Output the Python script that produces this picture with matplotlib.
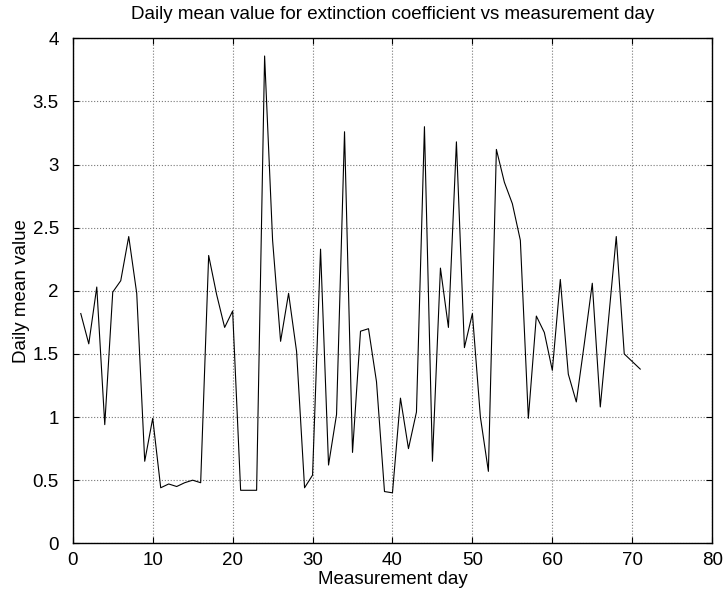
import matplotlib
matplotlib.use("Agg")
import matplotlib.pyplot as plt

plt.rcParams['font.family'] = ['Liberation Sans', 'DejaVu Sans']

# daily mean extinction coefficient, days 1..71
days = list(range(1, 72))
daily_mean = [
    1.82, 1.58, 2.03, 0.94, 1.99, 2.08, 2.43, 1.98, 0.65, 0.99,
    0.44, 0.47, 0.45, 0.48, 0.50, 0.48, 2.28, 1.97, 1.71, 1.84,
    0.42, 0.42, 0.42, 3.86, 2.40, 1.60, 1.98, 1.52, 0.44, 0.54,
    2.33, 0.62, 1.02, 3.26, 0.72, 1.68, 1.70, 1.28, 0.41, 0.40,
    1.15, 0.75, 1.04, 3.30, 0.65, 2.18, 1.71, 3.18, 1.55, 1.82,
    1.00, 0.57, 3.12, 2.86, 2.69, 2.40, 0.99, 1.80, 1.67, 1.37,
    2.09, 1.34, 1.12, 1.58, 2.06, 1.08, 1.75, 2.43, 1.50, 1.44,
    1.38,
]
x_ticks = list(range(0, 81, 10))
y_ticks = [0, 0.5, 1, 1.5, 2, 2.5, 3, 3.5, 4]

fig = plt.figure(figsize=(7.25, 5.96), dpi=100)
ax = fig.add_axes([0.1004, 0.0884, 0.8819, 0.8473])

ax.plot(days, daily_mean, color='black', linewidth=0.8)

ax.set_xlim(0, 80)
ax.set_ylim(0, 4)
ax.set_xticks(x_ticks)
ax.set_yticks(y_ticks)
ax.set_yticklabels(['0', '0.5', '1', '1.5', '2', '2.5', '3', '3.5', '4'])
ax.grid(True, color='#777777', linestyle=':', linewidth=0.8)
ax.tick_params(direction='in', length=4, width=0.8, top=True, right=True,
               labelsize=13.5)
ax.tick_params(axis='y', pad=10)
ax.tick_params(axis='x', pad=6)
for s in ax.spines.values():
    s.set_linewidth(1.0)

ax.set_title('Daily mean value for extinction coefficient vs measurement day',
             fontsize=13.5, pad=14)
ax.set_xlabel('Measurement day', fontsize=13.5, labelpad=2)
ax.set_ylabel('Daily mean value', fontsize=13.5, labelpad=2)

fig.savefig('out.png', dpi=100)
